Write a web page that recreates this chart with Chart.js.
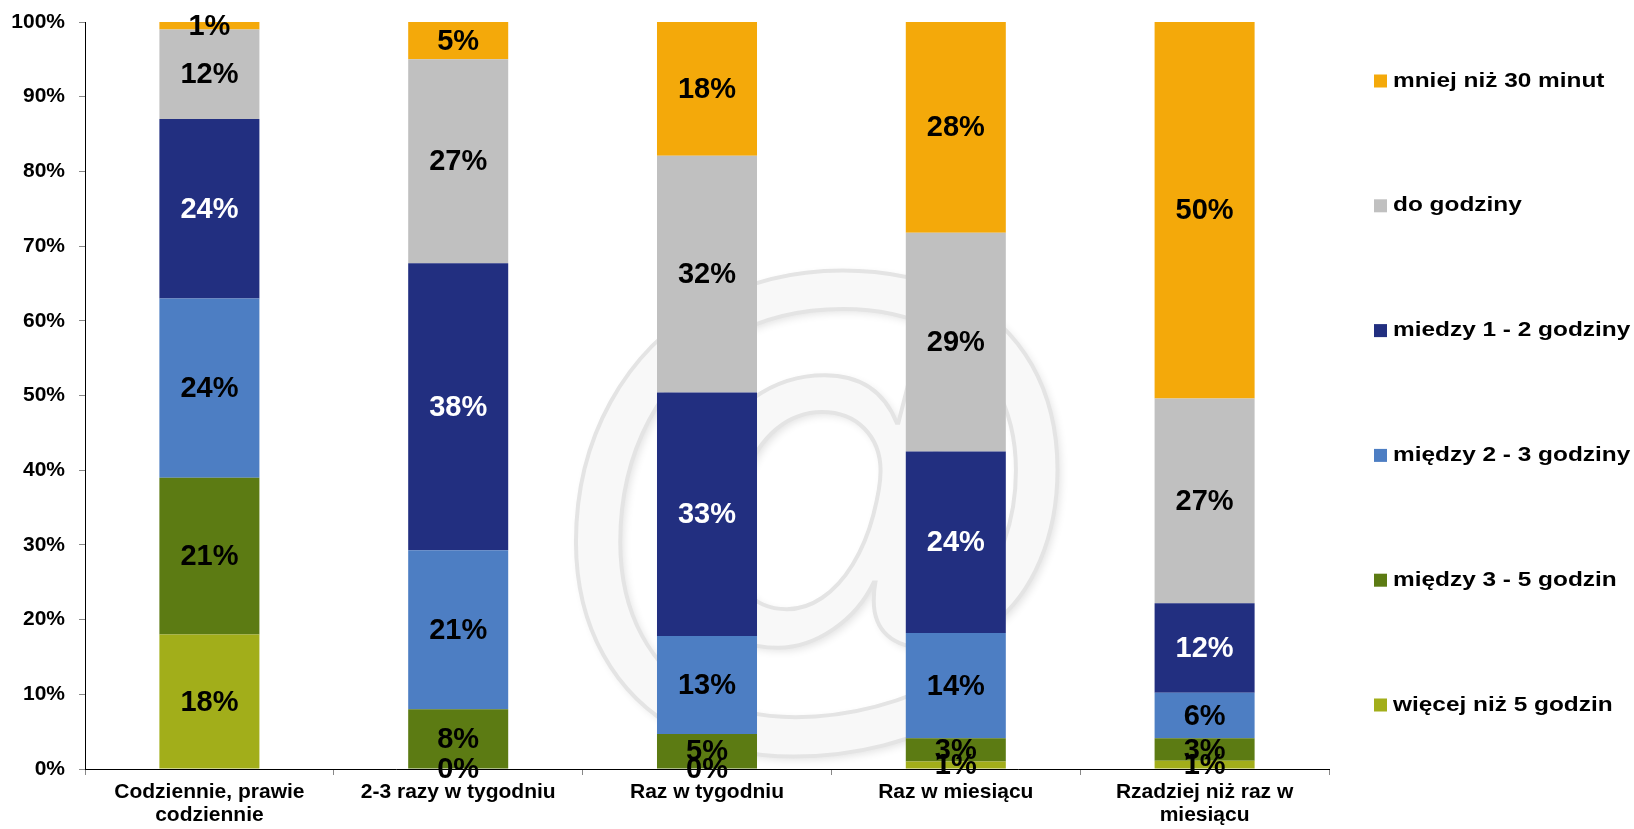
<!DOCTYPE html>
<html>
<head>
<meta charset="utf-8">
<script src="https://cdn.jsdelivr.net/npm/chart.js@4/dist/chart.umd.min.js"></script>
<style>
  html, body { margin: 0; padding: 0; background: #fff; }
  #wrap { width: 1634px; height: 829px; position: relative; }
</style>
</head>
<body>
<div id="wrap"><canvas id="timeChart"></canvas></div>
<script>
const categories = [
    ['Codziennie, prawie', 'codziennie'],
    '2-3 razy w tygodniu',
    'Raz w tygodniu',
    'Raz w miesiącu',
    ['Rzadziej niż raz w', 'miesiącu']
];

// stacked bottom -> top
const seriesNames = [
    'więcej niż 5 godzin',
    'między 3 - 5 godzin',
    'między 2 - 3 godziny',
    'miedzy 1 - 2 godziny',
    'do godziny',
    'mniej niż 30 minut'
];

const moreThan5h = [18, 0, 0, 1, 1.1];
const from3to5h = [21, 8, 4.7, 3.1, 3];
const from2to3h = [24, 21.3, 13.1, 14.1, 6.1];
const from1to2h = [24, 38.4, 32.6, 24.3, 12];
const upToHour = [12, 27.3, 31.7, 29.3, 27.4];
const under30min = [1, 5, 17.9, 28.2, 50.4];

const yTicks = [0, 10, 20, 30, 40, 50, 60, 70, 80, 90, 100];

const seriesColors = ['#A2AE1A', '#5C7B13', '#4D7EC3', '#222F80', '#C0C0C0', '#F4A90A'];
const labelColors = ['#000', '#000', '#000', '#fff', '#000', '#000'];

const FONT = "'Liberation Sans', Arial, sans-serif";

const seriesValues = [moreThan5h, from3to5h, from2to3h, from1to2h, upToHour, under30min];

// faint "@" behind the bars
const watermark = {
    id: 'watermark',
    beforeDatasetsDraw(chart) {
        const ctx = chart.ctx;
        ctx.save();
        ctx.font = 'bold 560px ' + FONT;
        ctx.textAlign = 'center';
        ctx.textBaseline = 'alphabetic';
        ctx.shadowColor = 'rgba(0,0,0,0.12)';
        ctx.shadowBlur = 8;
        ctx.shadowOffsetX = 3;
        ctx.shadowOffsetY = 3;
        ctx.fillStyle = '#f8f8f8';
        ctx.fillText('@', 817, 668);
        ctx.shadowColor = 'transparent';
        ctx.strokeStyle = '#e4e4e4';
        ctx.lineWidth = 4;
        ctx.strokeText('@', 817, 668);
        ctx.restore();
    }
};

const barLabels = {
    id: 'barLabels',
    afterDatasetsDraw(chart) {
        const ctx = chart.ctx;
        ctx.save();
        ctx.font = 'bold 29px ' + FONT;
        ctx.textAlign = 'center';
        ctx.textBaseline = 'middle';
        chart.data.datasets.forEach((ds, i) => {
            chart.getDatasetMeta(i).data.forEach((bar, j) => {
                const v = ds.data[j];
                ctx.fillStyle = labelColors[i];
                ctx.fillText(Math.round(v) + '%', bar.x, (bar.y + bar.base) / 2 + 1);
            });
        });
        ctx.restore();
    }
};

const sideLegend = {
    id: 'sideLegend',
    afterDraw(chart) {
        const ctx = chart.ctx;
        const items = chart.data.datasets.slice().reverse();
        ctx.save();
        ctx.font = 'bold 20px ' + FONT;
        ctx.textBaseline = 'middle';
        items.forEach((ds, k) => {
            const cy = 81 + k * 124.8;
            ctx.fillStyle = ds.backgroundColor;
            ctx.fillRect(1374, cy - 6.5, 13, 13);
            ctx.save();
            ctx.translate(1393, cy);
            ctx.scale(1.22, 1);
            ctx.fillStyle = '#000';
            ctx.fillText(ds.label, 0, 0);
            ctx.restore();
        });
        ctx.restore();
    }
};

new Chart(document.getElementById('timeChart').getContext('2d'), {
    type: 'bar',
    data: {
        labels: categories,
        datasets: seriesNames.map((name, i) => ({
            label: name,
            data: seriesValues[i],
            backgroundColor: seriesColors[i],
            borderWidth: 0,
            barPercentage: 0.402,
            categoryPercentage: 1
        }))
    },
    options: {
        responsive: true,
        maintainAspectRatio: false,
        animation: false,
        layout: { padding: { top: 22, right: 305, bottom: 0, left: 0 } },
        plugins: {
            legend: { display: false },
            tooltip: { enabled: false }
        },
        scales: {
            x: {
                stacked: true,
                grid: { drawOnChartArea: false, tickLength: 6, color: '#888' },
                border: { color: '#000', width: 1 },
                ticks: {
                    color: '#000',
                    padding: 6,
                    maxRotation: 0,
                    autoSkip: false,
                    font: { family: FONT, size: 21, weight: 'bold', lineHeight: 1.1 }
                },
                afterFit(scale) { scale.height = 60; }
            },
            y: {
                stacked: true,
                min: 0,
                max: 100,
                grid: { drawOnChartArea: false, tickLength: 6, color: '#888' },
                border: { color: '#000', width: 1 },
                afterBuildTicks(scale) { scale.ticks = yTicks.map(v => ({ value: v })); },
                ticks: {
                    color: '#000',
                    padding: 14,
                    callback: v => v + '%',
                    font: { family: FONT, size: 21, weight: 'bold' }
                },
                afterFit(scale) {
                    scale.width = 85;
                    scale.paddingTop = 0;
                    scale.paddingBottom = 0;
                }
            }
        }
    },
    plugins: [watermark, barLabels, sideLegend]
});
</script>
</body>
</html>
